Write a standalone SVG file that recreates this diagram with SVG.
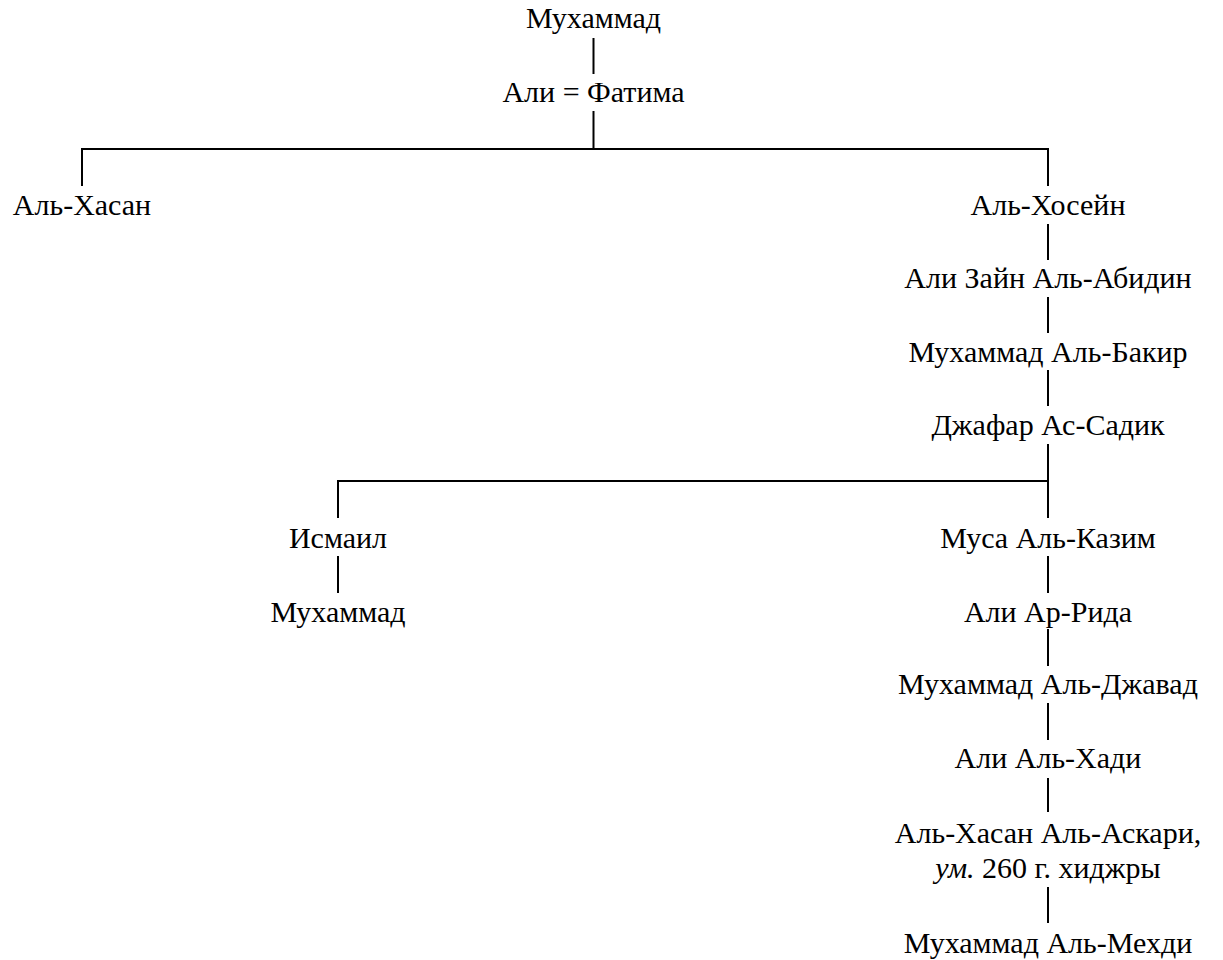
<svg xmlns="http://www.w3.org/2000/svg" width="1223" height="960" viewBox="0 0 1223 960">
<style>
text{font-family:"Liberation Serif","Times New Roman",Tinos,"Noto Serif","DejaVu Serif",FreeSerif,Times,serif;font-size:30px;fill:#000;text-anchor:middle}
.c line{stroke:#000;stroke-width:2;fill:none}
</style>
<rect width="1223" height="960" fill="#fff"/>
<g class="c" id="connectors">
<line x1="593.5" y1="38" x2="593.5" y2="74"/>
<line x1="593.5" y1="111" x2="593.5" y2="149"/>
<line x1="81" y1="149" x2="1049" y2="149"/>
<line x1="82" y1="148" x2="82" y2="186"/>
<line x1="1048" y1="148" x2="1048" y2="186"/>
<line x1="1048" y1="224" x2="1048" y2="260"/>
<line x1="1048" y1="297" x2="1048" y2="333"/>
<line x1="1048" y1="370" x2="1048" y2="406"/>
<line x1="1048" y1="444" x2="1048" y2="518"/>
<line x1="337" y1="481" x2="1048" y2="481"/>
<line x1="338" y1="480" x2="338" y2="518"/>
<line x1="338" y1="556" x2="338" y2="593"/>
<line x1="1048" y1="556" x2="1048" y2="593"/>
<line x1="1048" y1="629" x2="1048" y2="666"/>
<line x1="1048" y1="703" x2="1048" y2="740"/>
<line x1="1048" y1="778" x2="1048" y2="812"/>
<line x1="1048" y1="887" x2="1048" y2="923"/>
</g>
<g id="n-muhammad"><text x="593.5" y="28">Мухаммад</text></g>
<g id="n-ali-fatima"><text x="593.5" y="102">Али = Фатима</text></g>
<g id="n-hasan"><text x="82" y="215">Аль-Хасан</text></g>
<g id="n-hosein"><text x="1048" y="215">Аль-Хосейн</text></g>
<g id="n-zain"><text x="1048" y="288">Али Зайн Аль-Абидин</text></g>
<g id="n-bakir"><text x="1048" y="362">Мухаммад Аль-Бакир</text></g>
<g id="n-jafar"><text x="1048" y="435">Джафар Ас-Садик</text></g>
<g id="n-ismail"><text x="338" y="548">Исмаил</text></g>
<g id="n-muhammad2"><text x="338" y="622">Мухаммад</text></g>
<g id="n-musa"><text x="1048" y="548">Муса Аль-Казим</text></g>
<g id="n-rida"><text x="1048" y="622">Али Ар-Рида</text></g>
<g id="n-javad"><text x="1048" y="694">Мухаммад Аль-Джавад</text></g>
<g id="n-hadi"><text x="1048" y="768">Али Аль-Хади</text></g>
<g id="n-askari"><text x="1048" y="843">Аль-Хасан Аль-Аскари,</text><text x="1048" y="878"><tspan font-style="italic">ум.</tspan> 260 г. хиджры</text></g>
<g id="n-mehdi"><text x="1048" y="953">Мухаммад Аль-Мехди</text></g>
</svg>
